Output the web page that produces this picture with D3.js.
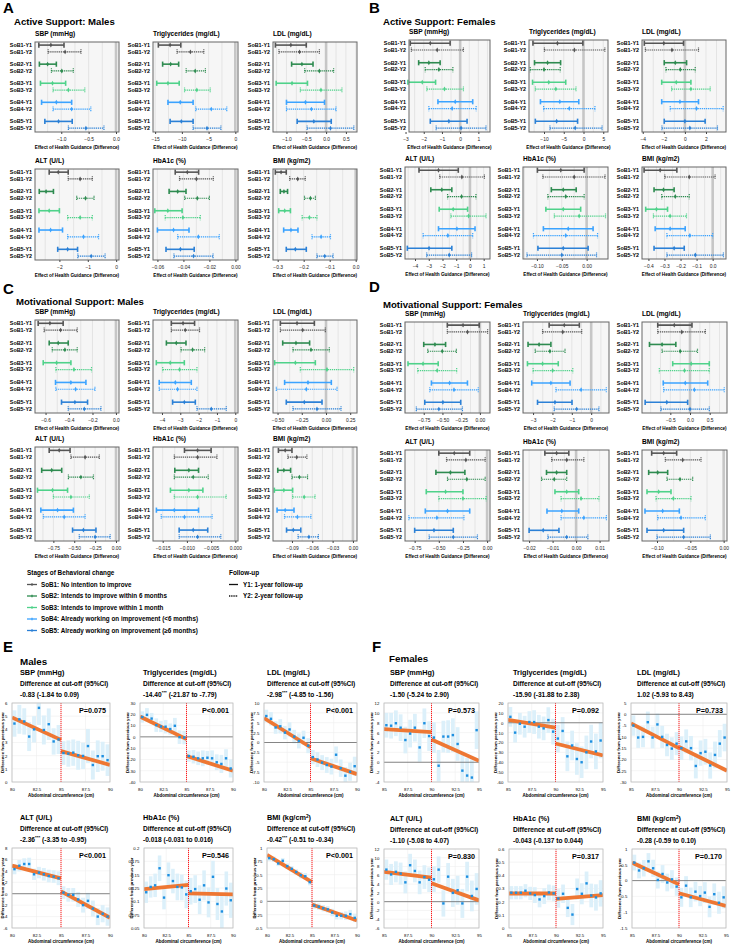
<!DOCTYPE html>
<html><head><meta charset="utf-8">
<script src="https://cdn.jsdelivr.net/npm/d3@7"></script>
<style>body{margin:0;background:#fff;} svg{display:block;}</style>
</head><body><svg id="c" width="732" height="946"></svg>
<script>
// ---------------- DATA ----------------
const stages = ["SoB1","SoB2","SoB3","SoB4","SoB5"];
const rowLabels = ["SoB1-Y1","SoB1-Y2","SoB2-Y1","SoB2-Y2","SoB3-Y1","SoB3-Y2","SoB4-Y1","SoB4-Y2","SoB5-Y1","SoB5-Y2"];
const stageColors = ["#555555","#2e8b50","#4fd28a","#3ba3ff","#2b80d6"];
const legendStages = ["SoB1: No intention to improve","SoB2: Intends to improve within 6 months","SoB3: Intends to improve within 1 month","SoB4: Already working on improvement (<6 months)","SoB5: Already working on improvement (≥6 months)"];
const legendFollow = ["Y1: 1-year follow-up","Y2: 2-year follow-up"];

// forest rows: [lower, estimate, upper]
const A_SBP = [[-1.41,-1.19,-0.95],[-1.24,-0.93,-0.64],[-1.40,-1.25,-1.09],[-1.18,-0.99,-0.78],[-1.38,-1.16,-0.92],[-1.15,-0.87,-0.57],[-1.36,-1.09,-0.81],[-1.15,-0.81,-0.46],[-1.30,-1.05,-0.80],[-0.87,-0.55,-0.22]];
const A_TG  = [[-14.4,-12.2,-10.2],[-10.9,-8.4,-5.9],[-13.6,-12.1,-10.6],[-9.2,-7.5,-5.6],[-14.7,-12.6,-10.5],[-9.5,-7.2,-4.7],[-12.6,-10.3,-7.9],[-7.4,-4.5,-1.6],[-12.2,-10.1,-7.9],[-7.9,-5.3,-2.7]];
const A_LDL = [[-1.28,-0.89,-0.50],[-1.19,-0.67,-0.17],[-0.87,-0.61,-0.33],[-0.54,-0.17,0.19],[-1.26,-0.86,-0.47],[-0.65,-0.13,0.40],[-1.00,-0.52,-0.04],[-1.00,-0.37,0.25],[-0.73,-0.31,0.13],[-0.48,0.11,0.70]];
const A_ALT = [[-2.36,-2.04,-1.69],[-1.69,-1.27,-0.84],[-2.71,-2.47,-2.21],[-1.39,-1.08,-0.78],[-2.72,-2.36,-2.00],[-1.71,-1.27,-0.84],[-2.72,-2.31,-1.89],[-1.71,-1.15,-0.62],[-2.06,-1.71,-1.36],[-1.35,-0.88,-0.39]];
const A_HBA = [[-0.0463,-0.037,-0.0283],[-0.043,-0.030,-0.017],[-0.051,-0.0444,-0.038],[-0.039,-0.0293,-0.020],[-0.062,-0.052,-0.041],[-0.054,-0.0404,-0.027],[-0.060,-0.0476,-0.0357],[-0.0444,-0.0285,-0.0124],[-0.0534,-0.0423,-0.0317],[-0.0473,-0.0322,-0.0172]];
const A_BMI = [[-0.309,-0.287,-0.267],[-0.254,-0.223,-0.194],[-0.290,-0.276,-0.262],[-0.197,-0.174,-0.155],[-0.296,-0.273,-0.251],[-0.206,-0.178,-0.149],[-0.277,-0.249,-0.222],[-0.168,-0.133,-0.097],[-0.267,-0.232,-0.190],[-0.149,-0.119,-0.087]];

const B_SBP = [[-2.74,-1.64,-0.55],[-2.68,-1.26,0.18],[-2.28,-1.72,-1.10],[-1.92,-1.17,-0.40],[-2.87,-2.08,-1.35],[-1.83,-0.86,0.18],[-1.22,-0.27,0.69],[-1.72,-0.44,0.88],[-1.64,-0.62,0.38],[-1.32,0.05,1.42]];
const B_TG  = [[-12.8,-6.6,-0.16],[-9.9,-2.3,5.4],[-12.4,-9.1,-5.8],[-13.5,-10.0,-5.9],[-12.9,-8.8,-4.5],[-12.2,-7.0,-1.9],[-10.9,-6.0,-1.2],[-10.1,-3.6,2.9],[-12.2,-6.8,-1.5],[-8.5,-2.1,4.7]];
const B_LDL = [[-3.85,-2.0,-0.13],[-3.75,-1.23,1.29],[-1.96,-0.91,0.16],[-1.80,-0.44,0.98],[-2.20,-0.82,0.57],[-1.26,0.57,2.40],[-2.20,-0.47,1.29],[-1.39,1.10,3.63],[-1.96,0.0,1.92],[-2.18,0.47,3.09]];
const B_ALT = [[-3.71,-2.29,-0.85],[-2.20,-0.59,1.05],[-2.85,-2.05,-1.32],[-1.63,-0.61,0.44],[-2.24,-1.22,-0.17],[-1.39,-0.10,1.17],[-2.29,-0.95,0.37],[-3.41,-1.61,0.20],[-4.56,-2.98,-1.32],[-3.15,-1.51,0.12]];
const B_HBA = [[-0.099,-0.052,-0.005],[-0.088,-0.025,0.037],[-0.071,-0.047,-0.021],[-0.078,-0.042,-0.005],[-0.082,-0.047,-0.012],[-0.065,-0.015,0.038],[-0.087,-0.037,0.013],[-0.107,-0.042,0.022],[-0.098,-0.047,0.003],[-0.120,-0.050,0.020]];
const B_BMI = [[-0.427,-0.327,-0.223],[-0.298,-0.146,0.015],[-0.365,-0.306,-0.240],[-0.317,-0.233,-0.146],[-0.417,-0.350,-0.281],[-0.369,-0.265,-0.163],[-0.358,-0.265,-0.171],[-0.285,-0.142,0.0],[-0.365,-0.240,-0.177],[-0.285,-0.108,0.067]];

const C_SBP = [[-0.663,-0.563,-0.45],[-0.612,-0.472,-0.33],[-0.569,-0.492,-0.407],[-0.543,-0.435,-0.33],[-0.62,-0.506,-0.384],[-0.512,-0.358,-0.208],[-0.515,-0.384,-0.256],[-0.512,-0.344,-0.179],[-0.464,-0.35,-0.242],[-0.407,-0.27,-0.128]];
const C_TG  = [[-3.49,-2.85,-2.22],[-3.49,-2.73,-1.95],[-3.76,-3.22,-2.69],[-2.96,-2.33,-1.67],[-4.31,-3.55,-2.78],[-3.96,-3.04,-2.09],[-4.15,-3.27,-2.40],[-4.15,-3.15,-2.09],[-3.42,-2.78,-2.18],[-2.09,-1.31,-0.49]];
const C_LDL = [[-0.471,-0.299,-0.12],[-0.471,-0.241,-0.007],[-0.447,-0.31,-0.169],[-0.341,-0.155,0.034],[-0.53,-0.316,-0.11],[-0.265,0.01,0.286],[-0.427,-0.186,0.055],[-0.513,-0.203,0.114],[-0.41,-0.224,-0.041],[-0.341,-0.093,0.155]];
const C_ALT = [[-0.80,-0.68,-0.55],[-0.54,-0.37,-0.20],[-0.89,-0.77,-0.65],[-0.57,-0.42,-0.27],[-0.94,-0.76,-0.58],[-0.75,-0.54,-0.32],[-0.90,-0.70,-0.51],[-0.87,-0.62,-0.37],[-0.52,-0.39,-0.24],[-0.44,-0.25,-0.07]];
const C_HBA = [[-0.0105,-0.0078,-0.005],[-0.0126,-0.0078,-0.0038],[-0.0125,-0.0096,-0.0076],[-0.0126,-0.0087,-0.0056],[-0.0134,-0.0096,-0.0067],[-0.0126,-0.0078,-0.0019],[-0.0163,-0.0126,-0.0076],[-0.0153,-0.0105,-0.0048],[-0.0116,-0.0087,-0.0057],[-0.0116,-0.0078,-0.003]];
const C_BMI = [[-0.11,-0.10,-0.09],[-0.096,-0.083,-0.068],[-0.111,-0.102,-0.092],[-0.09,-0.079,-0.067],[-0.116,-0.102,-0.089],[-0.089,-0.072,-0.056],[-0.112,-0.10,-0.087],[-0.101,-0.082,-0.062],[-0.098,-0.088,-0.077],[-0.081,-0.065,-0.051]];

const D_SBP = [[-0.435,-0.225,-0.009],[-0.435,-0.166,0.103],[-0.75,-0.60,-0.458],[-0.696,-0.503,-0.314],[-0.96,-0.759,-0.557],[-0.83,-0.57,-0.31],[-0.647,-0.404,-0.166],[-0.669,-0.346,-0.022],[-0.736,-0.494,-0.256],[-0.849,-0.548,-0.233]];
const D_TG  = [[-2.17,-1.39,-0.61],[-2.51,-1.47,-0.49],[-3.26,-2.69,-2.08],[-2.89,-2.13,-1.35],[-3.29,-2.51,-1.70],[-3.0,-1.99,-0.95],[-3.07,-2.08,-1.09],[-1.82,-0.52,0.78],[-2.77,-1.87,-0.99],[-1.91,-0.75,0.40]];
const D_LDL = [[-0.82,-0.40,0.05],[-0.82,-0.21,0.39],[-1.03,-0.71,-0.36],[-0.71,-0.25,0.19],[-0.44,0.03,0.49],[-0.78,-0.14,0.49],[-0.68,-0.12,0.45],[-0.67,0.11,0.87],[-1.14,-0.59,-0.06],[-0.74,0.0,0.49]];
const D_ALT = [[-0.50,-0.34,-0.18],[-0.42,-0.22,-0.02],[-0.53,-0.38,-0.23],[-0.41,-0.21,-0.02],[-0.63,-0.43,-0.25],[-0.50,-0.25,-0.01],[-0.64,-0.41,-0.18],[-0.81,-0.52,-0.24],[-0.75,-0.55,-0.35],[-0.60,-0.35,-0.10]];
const D_HBA = [[-0.0133,-0.0083,-0.0031],[-0.0104,-0.004,0.0033],[-0.0126,-0.0083,-0.004],[-0.0147,-0.0093,-0.004],[-0.009,-0.004,0.0011],[-0.0064,0.0021,0.0097],[-0.0124,-0.0061,0.0011],[-0.0064,0.0033,0.0129],[-0.020,-0.014,-0.0073],[-0.012,-0.004,0.005]];
const D_BMI = [[-0.108,-0.09,-0.0705],[-0.0875,-0.0615,-0.034],[-0.1125,-0.099,-0.084],[-0.085,-0.0655,-0.0465],[-0.115,-0.0975,-0.079],[-0.1015,-0.0755,-0.049],[-0.118,-0.0915,-0.0665],[-0.099,-0.064,-0.0275],[-0.115,-0.09,-0.06],[-0.10,-0.06,-0.02]];

// tick values for forest axes
const ticks_A = [[-1.0,-0.5,0.0],[-15,-10,-5,0],[-1.0,-0.5,0.0,0.5],[-2,-1,0],[-0.06,-0.04,-0.02,0.00],[-0.3,-0.2,-0.1,0.0]];
const ticks_B = [[-3,-2,-1,0,1],[-10,-5,0,5],[-4,-2,0,2],[-4,-3,-2,-1,0,1],[-0.10,-0.05,0.00],[-0.4,-0.3,-0.2,-0.1,0.0]];
const ticks_C = [[-0.6,-0.4,-0.2,0.0],[-4,-3,-2,-1,0],[-0.50,-0.25,0.00,0.25],[-0.75,-0.50,-0.25,0.00],[-0.015,-0.010,-0.005,0.000],[-0.09,-0.06,-0.03,0.00]];
const ticks_D = [[-0.75,-0.50,-0.25,0.00],[-3,-2,-1,0],[-0.5,0.0,0.5],[-0.75,-0.50,-0.25,0.00],[-0.02,-0.01,0.00,0.01],[-0.10,-0.05,0.00]];
const tickDec_A = [1,0,1,0,2,1], tickDec_B = [0,0,0,0,2,1], tickDec_C = [1,0,2,2,3,2], tickDec_D = [2,0,1,2,2,2];
const forestTitles = ["SBP (mmHg)","Triglycerides (mg/dL)","LDL (mg/dL)","ALT (U/L)","HbA1c (%)","BMI (kg/m2)"];

// regression discontinuity panels (E: males, F: females)
const binsE = [80.25,80.75,81.25,81.75,82.25,82.75,83.25,83.75,84.25,84.75,85.25,85.75,86.25,86.75,87.25,87.75,88.25,88.75,89.25,89.75];
const binsF = [85.25,85.75,86.25,86.75,87.25,87.75,88.25,88.75,89.25,89.75,90.25,90.75,91.25,91.75,92.25,92.75,93.25,93.75,94.25,94.75];
const xTicksE = [80,82.5,85,87.5,90], xTicksF = [85,87.5,90,92.5,95];

const E_SBP_y  = [4.44,4.76,4.6,3.45,4.0,5.63,3.95,4.39,3.08,3.23,2.2,2.16,2.23,2.03,1.98,2.73,1.29,1.96,1.96,1.66];
const E_SBP_ci = [1.0,1.1,1.0,1.1,1.0,1.3,1.1,1.2,1.0,1.1,0.9,1.0,1.0,1.1,1.0,1.3,1.1,1.2,1.1,1.2];
const E_TG_y   = [17.6,19.5,16.2,10.4,9.2,9.0,6.9,9.8,-0.3,-0.6,-17,-17.6,-19,-19,-18.5,-19,-22.5,-24,-19,-28];
const E_TG_ci  = [5,6,5,6,5,6,5,7,6,6,5,6,6,7,6,7,7,8,8,8];
const E_LDL_y  = [6.7,6.0,3.8,4.1,2.5,3.3,1.5,0.4,1.2,-0.8,-3.7,-4.3,-5.1,-5.7,-6.1,-3.1,-6.5,-8.4,-7.4,-6.0];
const E_LDL_ci = [1.6,1.7,1.6,1.8,1.7,1.8,1.7,1.9,1.8,1.9,1.8,1.9,1.9,2.0,2.0,2.1,2.2,2.2,2.3,2.4];
const E_ALT_y  = [4.3,4.9,5.2,5.2,3.4,3.7,3.4,3.1,3.0,2.7,0.2,-0.2,-0.2,-1.0,-2.0,-1.25,-2.6,-4.0,-3.5,-4.0];
const E_ALT_ci = [0.9,1.0,1.0,1.1,1.0,1.0,1.1,1.1,1.1,1.2,1.1,1.2,1.2,1.3,1.3,1.4,1.4,1.5,1.5,1.6];
const E_HBA_y  = [0.117,0.127,0.130,0.162,0.107,0.149,0.138,0.127,0.126,0.113,0.119,0.123,0.103,0.130,0.098,0.146,0.095,0.081,0.124,0.102];
const E_HBA_ci = [0.02,0.02,0.022,0.024,0.022,0.024,0.023,0.025,0.024,0.026,0.025,0.026,0.027,0.028,0.028,0.03,0.03,0.031,0.032,0.033];
const E_BMI_y  = [0.81,0.79,0.71,0.76,0.66,0.61,0.55,0.49,0.47,0.36,-0.08,-0.10,-0.13,-0.15,-0.21,-0.27,-0.27,-0.27,-0.24,-0.31];
const E_BMI_ci = [0.05,0.05,0.05,0.05,0.05,0.05,0.05,0.06,0.06,0.06,0.06,0.06,0.06,0.06,0.07,0.07,0.07,0.08,0.08,0.08];

const F_SBP_y  = [7.5,7.4,7.9,7.0,4.5,5.8,7.0,3.0,7.9,5.3,5.0,-0.7,5.2,5.2,5.5,3.7,-1.7,-2.7,-3.1,6.5];
const F_SBP_ci = [2.5,2.6,2.6,2.7,2.7,2.8,2.8,2.9,3.0,3.0,3.1,3.2,3.2,3.3,3.4,3.4,3.5,3.6,3.7,3.8];
const F_TG_y   = [6,-10,-1,-4,0.7,0.7,-4,-5.7,2.7,-9,-16,-8.3,-34,-23,-36.7,-40,-30,-19,-29,-18];
const F_TG_ci  = [10,10,11,11,11,12,12,12,13,13,14,14,15,15,16,16,17,17,18,18];
const F_LDL_y  = [-5,-10.3,-10,-3.5,-10.3,-4.5,-10,-13.6,-15.2,-13,-15,-12,-15,-22.9,-17.2,-16.6,-22.7,-18,-13,-10.3];
const F_LDL_ci = [4.5,4.6,4.6,4.7,4.8,4.8,4.9,5.0,5.0,5.1,5.2,5.3,5.4,5.5,5.6,5.7,5.8,5.9,6.0,6.1];
const F_ALT_y  = [7.3,6.2,6.8,6.4,4.4,8.3,7.0,4.4,5.6,5.0,5.1,7.3,-0.4,5.7,2.0,2.6,-0.4,5.7,1.3,2.9];
const F_ALT_ci = [2.3,2.4,2.4,2.5,2.5,2.6,2.6,2.7,2.7,2.8,2.9,3.0,3.0,3.1,3.2,3.3,3.3,3.4,3.5,3.6];
const F_HBA_y  = [0.268,0.268,0.268,0.283,0.263,0.25,0.217,0.242,0.27,0.263,0.224,0.26,0.153,0.102,0.296,0.26,0.339,0.247,0.232,0.263];
const F_HBA_ci = [0.05,0.05,0.05,0.05,0.05,0.06,0.06,0.06,0.06,0.06,0.07,0.07,0.07,0.08,0.08,0.08,0.09,0.09,0.1,0.1];
const F_BMI_y  = [0.57,0.32,0.39,0.61,0.39,0.02,0.21,-0.06,0.04,-0.19,-0.53,-0.16,-0.53,-0.35,-0.49,-0.38,-0.83,-0.43,-0.7,-0.53];
const F_BMI_ci = [0.25,0.25,0.26,0.26,0.27,0.27,0.28,0.28,0.29,0.29,0.3,0.3,0.31,0.31,0.32,0.33,0.33,0.34,0.35,0.35];

// fitted lines [y at left end, y at cutoff] and [y at cutoff, y at right end]
const E_fitL = [[4.9,3.2],[18,-2],[6.2,-1.2],[4.9,2.7],[0.123,0.131],[0.87,0.36]];
const E_fitR = [[2.35,1.3],[-17,-30],[-4.0,-8.0],[0.4,-4.2],[0.115,0.113],[-0.06,-0.36]];
const F_fitL = [[6.7,6.1],[3,-5],[-4,-15],[6.8,5.5],[0.262,0.262],[0.57,-0.12]];
const F_fitR = [[4.6,0.3],[-21,-33],[-14.5,-25],[4.2,0.3],[0.222,0.25],[-0.4,-0.8]];

const rdTitles = ["SBP (mmHg)","Triglycerides (mg/dL)","LDL (mg/dL)","ALT (U/L)","HbA1c (%)","BMI (kg/cm"];
const E_est = ["-0.83","-14.40","-2.98","-2.36","-0.018","-0.42"];
const E_sig = ["","***","***","***","","***"];
const E_ci  = ["(-1.84 to 0.09)","(-21.87 to -7.79)","(-4.85 to -1.56)","(-3.35 to -0.95)","(-0.031 to 0.016)","(-0.51 to -0.34)"];
const E_p   = ["P=0.075","P<0.001","P<0.001","P<0.001","P=0.546","P<0.001"];
const F_est = ["-1.50","-15.90","1.02","-1.10","-0.043","-0.28"];
const F_sig = ["","","","","",""];
const F_ci  = ["(-5.24 to 2.90)","(-31.88 to 2.38)","(-5.93 to 8.43)","(-5.08 to 4.07)","(-0.137 to 0.044)","(-0.59 to 0.10)"];
const F_p   = ["P=0.573","P=0.092","P=0.733","P=0.830","P=0.317","P=0.170"];

const E_yTicks = [[0,1,2,3,4,5,6],[-40,-30,-20,-10,0,10,20,30],[-10,-7.5,-5,-2.5,0,2.5,5,7.5,10],[-6,-4,-2,0,2,4,6,8],[0.05,0.075,0.1,0.125,0.15,0.175,0.2],[-0.5,-0.25,0,0.25,0.5,0.75,1]];
const F_yTicks = [[-4,-2,0,2,4,6,8,10,12],[-60,-50,-40,-30,-20,-10,0,10,20],[-30,-25,-20,-15,-10,-5,0,5],[-6,-4,-2,0,2,4,6,8,10,12],[0,0.1,0.2,0.3,0.4,0.5,0.6],[-1.5,-1,-0.5,0,0.5,1]];

// ---------------- DRAWING ----------------
const FONT = "Arial, 'Liberation Sans', Helvetica, sans-serif";
const svg = d3.select("#c").attr("font-family", FONT);
svg.append("rect").attr("width",732).attr("height",946).attr("fill","#fff");

function txt(x, y, s, size, opts = {}) {
  return svg.append("text").attr("x", x).attr("y", y).attr("font-size", size)
    .attr("font-weight", opts.weight || "bold").attr("fill", opts.fill || "#000")
    .attr("text-anchor", opts.anchor || "start").text(s);
}

function forest(data, ticks, dec, title, box, domain) {
  const [x0, y0, x1, y1] = box;
  const g = svg.append("g");
  const x = d3.scaleLinear().domain(domain).range([x0, x1]);
  const gy = d3.scalePoint().domain(stages).range([y0 + (y1 - y0) * 0.072, y0 + (y1 - y0) * 0.92]);
  g.append("rect").attr("x", x0).attr("y", y0).attr("width", x1 - x0).attr("height", y1 - y0).attr("fill", "#f6f6f6");
  const step = ticks[1] - ticks[0];
  const minor = d3.range(Math.ceil(domain[0] / (step / 2)), Math.floor(domain[1] / (step / 2)) + 1).map(k => k * step / 2);
  g.selectAll(".mn").data(minor).join("line").attr("x1", d => x(d)).attr("x2", d => x(d))
    .attr("y1", y0).attr("y2", y1).attr("stroke", "#e0e0e0").attr("stroke-width", 0.8);
  if (domain[0] < 0 && domain[1] > 0) {
    g.append("line").attr("x1", x(0)).attr("x2", x(0)).attr("y1", y0).attr("y2", y1)
      .attr("stroke", "#c6c6c6").attr("stroke-width", 2.6);
  }
  data.forEach((r, i) => {
    const s = Math.floor(i / 2), y2 = i % 2 === 1;
    const yy = gy(stages[s]) + (y2 ? 3.4 : -3.4);
    const col = stageColors[s];
    const sw = y2 ? 1.2 : 1.6, da = y2 ? "1.3,0.8" : null;
    const lo = Math.max(x(r[0]), x0), hi = Math.min(x(r[2]), x1);
    g.append("line").attr("x1", lo).attr("x2", hi).attr("y1", yy).attr("y2", yy)
      .attr("stroke", col).attr("stroke-width", sw).attr("stroke-dasharray", da);
    [r[0], r[2]].forEach(v => {
      g.append("line").attr("x1", x(v)).attr("x2", x(v)).attr("y1", yy - 2.6).attr("y2", yy + 2.6)
        .attr("stroke", col).attr("stroke-width", sw).attr("stroke-dasharray", y2 ? "1,0.7" : null);
    });
    g.append("path").attr("d", d3.symbol(d3.symbolDiamond, 7)()).attr("transform", `translate(${x(r[1])},${yy})`).attr("fill", col);
    g.append("text").attr("x", x0 - 3).attr("y", yy + 1.9).attr("font-size", 5.4).attr("font-weight", "bold")
      .attr("text-anchor", "end").text(rowLabels[i]);
  });
  g.append("rect").attr("x", x0).attr("y", y0).attr("width", x1 - x0).attr("height", y1 - y0)
    .attr("fill", "none").attr("stroke", "#666").attr("stroke-width", 1);
  const ax = d3.axisBottom(x).tickValues(ticks).tickSize(2).tickFormat(d3.format("." + dec + "f"));
  const axg = g.append("g").attr("transform", `translate(0,${y1})`).call(ax);
  axg.select(".domain").remove();
  axg.selectAll("line").attr("stroke", "#444");
  axg.selectAll("text").attr("font-size", 4.9).attr("font-family", FONT).attr("dy", "0.9em").attr("fill", "#222");
  g.append("text").attr("x", (x0 + x1) / 2).attr("y", y1 + 16.5).attr("text-anchor", "middle")
    .attr("font-size", 4.7).attr("font-weight", "bold").text("Effect of Health Guidance (Difference)");
  g.append("text").attr("x", x0).attr("y", y0 - 6.5).attr("font-size", 6.6).attr("font-weight", "bold").text(title);
}

// Forest panel layouts
const colA = [[35,119],[153,238],[273,357]];
const colB1 = [[409,490],[529,608],[642,726]], colB2 = [[405,490],[523,608],[642,726]];
const colD = [[405,490],[523,609],[642,727]];
const forestPanels = [
  { data: [A_SBP,A_TG,A_LDL,A_ALT,A_HBA,A_BMI], ticks: ticks_A, dec: tickDec_A, cols: [colA, colA], rows: [[42,132],[169,260]],
    domains: [[-1.48,0.055],[-15.4,0.5],[-1.34,0.78],[-2.86,0.1],[-0.0634,0.002],[-0.318,0.005]] },
  { data: [B_SBP,B_TG,B_LDL,B_ALT,B_HBA,B_BMI], ticks: ticks_B, dec: tickDec_B, cols: [colB1, colB2], rows: [[40,132],[167,259]],
    domains: [[-2.81,1.64],[-13.8,6.2],[-4.07,3.9],[-4.73,1.46],[-0.128,0.043],[-0.44,0.083]] },
  { data: [C_SBP,C_TG,C_LDL,C_ALT,C_HBA,C_BMI], ticks: ticks_C, dec: tickDec_C, cols: [colA, colA], rows: [[320,413],[447,541]],
    domains: [[-0.69,0.026],[-4.49,0.15],[-0.547,0.32],[-0.97,0.036],[-0.017,0.00055],[-0.118,0.006]] },
  { data: [D_SBP,D_TG,D_LDL,D_ALT,D_HBA,D_BMI], ticks: ticks_D, dec: tickDec_D, cols: [colD, colD], rows: [[322,413],[450,541]],
    domains: [[-1.0,0.135],[-3.52,0.92],[-1.22,0.94],[-0.85,0.03],[-0.0226,0.014],[-0.1225,0.005]] }
];
forestPanels.forEach(p => {
  p.data.forEach((d, k) => {
    const r = Math.floor(k / 3), c = k % 3;
    const col = p.cols[r][c], row = p.rows[r];
    forest(d, p.ticks[k], p.dec[k], forestTitles[k], [col[0], row[0], col[1], row[1]], p.domains[k]);
  });
});

// Panel letters and titles
txt(3, 13, "A", 15); txt(14, 24.5, "Active Support: Males", 9.6);
txt(369, 13, "B", 15); txt(383, 24.5, "Active Support: Females", 9.6);
txt(3, 294, "C", 15); txt(16, 304.5, "Motivational Support: Males", 9.6);
txt(369, 292, "D", 15); txt(383, 307.5, "Motivational Support: Females", 9.6);

// Legend
txt(27, 575, "Stages of Behavioral change", 6.4);
legendStages.forEach((s, i) => {
  const y = 584.5 + i * 11.5;
  svg.append("line").attr("x1", 27).attr("x2", 37).attr("y1", y).attr("y2", y).attr("stroke", stageColors[i]).attr("stroke-width", 1.3);
  svg.append("line").attr("x1", 32).attr("x2", 32).attr("y1", y - 1.3).attr("y2", y + 1.3).attr("stroke", stageColors[i]).attr("stroke-width", 1.3);
  txt(41, y + 2.2, s, 6.3);
});
txt(229, 575, "Follow-up", 6.4);
legendFollow.forEach((s, i) => {
  const y = 584.5 + i * 11.5;
  svg.append("line").attr("x1", 229).attr("x2", 238).attr("y1", y).attr("y2", y).attr("stroke", "#111")
    .attr("stroke-width", 1.3).attr("stroke-dasharray", i ? "1.3,0.9" : null);
  txt(243, y + 2.2, s, 6.3);
});

// RD panels
function rdPlot(o) {
  const [x0, y0, x1, y1] = o.box;
  const g = svg.append("g");
  const x = d3.scaleLinear().domain([o.xt[0], o.xt[o.xt.length - 1]]).range([x0, x1]);
  const y = d3.scaleLinear().domain([o.yt[0], o.yt[o.yt.length - 1]]).range([y1, y0]);
  const clipId = "clip" + Math.round(x0) + "_" + Math.round(y0);
  svg.append("clipPath").attr("id", clipId).append("rect").attr("x", x0).attr("y", y0).attr("width", x1 - x0).attr("height", y1 - y0);
  g.append("rect").attr("x", x0).attr("y", y0).attr("width", x1 - x0).attr("height", y1 - y0).attr("fill", "#fff");
  g.selectAll(".gy").data(o.yt).join("line").attr("x1", x0).attr("x2", x1).attr("y1", d => y(d)).attr("y2", d => y(d))
    .attr("stroke", "#efefef").attr("stroke-width", 0.6);
  g.selectAll(".gx").data(o.xt).join("line").attr("x1", d => x(d)).attr("x2", d => x(d)).attr("y1", y0).attr("y2", y1)
    .attr("stroke", "#efefef").attr("stroke-width", 0.6);
  const inner = g.append("g").attr("clip-path", `url(#${clipId})`);
  inner.selectAll(".ci").data(o.bins).join("rect")
    .attr("x", (d) => x(d - 0.2)).attr("width", x(0.4) - x(0))
    .attr("y", (d, i) => y(o.pts[i] + o.ci[i])).attr("height", (d, i) => y(o.pts[i] - o.ci[i]) - y(o.pts[i] + o.ci[i]))
    .attr("fill", "#dcf0fa");
  if (o.yt[0] < 0 && o.yt[o.yt.length - 1] > 0) {
    inner.append("line").attr("x1", x0).attr("x2", x1).attr("y1", y(0)).attr("y2", y(0)).attr("stroke", "#555").attr("stroke-width", 0.7);
  }
  const xs = o.xt[0], xc = o.xt[2], xe = o.xt[4];
  inner.append("line").attr("x1", x(xs)).attr("x2", x(xc)).attr("y1", y(o.fitL[0])).attr("y2", y(o.fitL[1]))
    .attr("stroke", "#ee7733").attr("stroke-width", 3.8);
  inner.append("line").attr("x1", x(xc)).attr("x2", x(xe)).attr("y1", y(o.fitR[0])).attr("y2", y(o.fitR[1]))
    .attr("stroke", "#ee7733").attr("stroke-width", 3.8);
  inner.selectAll(".pt").data(o.bins).join("rect")
    .attr("x", d => x(d) - 1.2).attr("y", (d, i) => y(o.pts[i]) - 1.2).attr("width", 2.4).attr("height", 2.4).attr("fill", "#1e8fe0");
  g.append("line").attr("x1", x(xc)).attr("x2", x(xc)).attr("y1", y0).attr("y2", y1)
    .attr("stroke", "#ff1a1a").attr("stroke-width", 1).attr("stroke-dasharray", "1.2,0.8");
  g.append("rect").attr("x", x0).attr("y", y0).attr("width", x1 - x0).attr("height", y1 - y0)
    .attr("fill", "none").attr("stroke", "#bdbdbd").attr("stroke-width", 0.8);
  const ax = d3.axisBottom(x).tickValues(o.xt).tickSize(0).tickFormat(d => String(d));
  const axg = g.append("g").attr("transform", `translate(0,${y1})`).call(ax);
  axg.select(".domain").remove();
  axg.selectAll("text").attr("font-size", 4.3).attr("font-family", FONT).attr("dy", "1.3em");
  const ay = d3.axisLeft(y).tickValues(o.yt).tickSize(0).tickFormat(d => String(d));
  const ayg = g.append("g").attr("transform", `translate(${x0},0)`).call(ay);
  ayg.select(".domain").remove();
  ayg.selectAll("text").attr("font-size", 4.3).attr("font-family", FONT).attr("dx", "-0.4em");
  g.append("text").attr("x", (x0 + x1) / 2).attr("y", y1 + 15).attr("text-anchor", "middle").attr("font-size", 4.5)
    .attr("font-weight", "bold").text("Abdominal circumference (cm)");
  g.append("text").attr("transform", `translate(${Math.max(x0 - 11, 4)},${(y0 + y1) / 2}) rotate(-90)`).attr("text-anchor", "middle")
    .attr("font-size", 4.3).attr("font-weight", "bold").text("Difference from previous year");
  g.append("text").attr("x", x1 - 4).attr("y", y0 + 10).attr("text-anchor", "end").attr("font-size", 7.2)
    .attr("font-weight", "bold").text(o.p);
  // titles
  const t = g.append("text").attr("x", o.tx).attr("y", y0 - 28).attr("font-size", 7.3).attr("font-weight", "bold").text(o.title);
  if (o.sup) { t.append("tspan").attr("dy", -2.5).attr("font-size", 4.8).text("2"); t.append("tspan").attr("dy", 2.5).text(")"); }
  g.append("text").attr("x", o.tx).attr("y", y0 - 17.5).attr("font-size", 6.6).attr("font-weight", "bold").text("Difference at cut-off (95%CI)");
  const v = g.append("text").attr("x", o.tx).attr("y", y0 - 6.5).attr("font-size", 6.6).attr("font-weight", "bold").text(o.est);
  if (o.sig) v.append("tspan").attr("dy", -2.4).attr("font-size", 4.4).text(o.sig);
  v.append("tspan").attr("dy", o.sig ? 2.4 : 0).text(" " + o.ciTxt);
}

txt(3, 652, "E", 15); txt(20, 665, "Males", 9.8);
txt(372, 652, "F", 15); txt(389, 662, "Females", 9.8);

const E_boxes = [[12,703,110,782],[140,703,233,782],[264,703,357,782],[12,848,110,928],[144,848,233,928],[267,848,357,928]];
const E_tx = [20,143,267,20,143,267];
const F_boxes = [[384,703,479,782],[508,703,603,782],[631,703,727,782],[384,849,479,928],[509,849,603,928],[632,849,726,928]];
const F_tx = [390,513,637,390,513,637];
const E_pts = [E_SBP_y,E_TG_y,E_LDL_y,E_ALT_y,E_HBA_y,E_BMI_y], E_cis = [E_SBP_ci,E_TG_ci,E_LDL_ci,E_ALT_ci,E_HBA_ci,E_BMI_ci];
const F_pts = [F_SBP_y,F_TG_y,F_LDL_y,F_ALT_y,F_HBA_y,F_BMI_y], F_cis = [F_SBP_ci,F_TG_ci,F_LDL_ci,F_ALT_ci,F_HBA_ci,F_BMI_ci];
for (let k = 0; k < 6; k++) {
  rdPlot({ box: E_boxes[k], tx: E_tx[k], xt: xTicksE, yt: E_yTicks[k], bins: binsE, pts: E_pts[k], ci: E_cis[k],
    fitL: E_fitL[k], fitR: E_fitR[k], p: E_p[k], title: rdTitles[k], sup: k === 5, est: E_est[k], sig: E_sig[k], ciTxt: E_ci[k] });
  rdPlot({ box: F_boxes[k], tx: F_tx[k], xt: xTicksF, yt: F_yTicks[k], bins: binsF, pts: F_pts[k], ci: F_cis[k],
    fitL: F_fitL[k], fitR: F_fitR[k], p: F_p[k], title: rdTitles[k], sup: k === 5, est: F_est[k], sig: F_sig[k], ciTxt: F_ci[k] });
}
</script></body></html>
